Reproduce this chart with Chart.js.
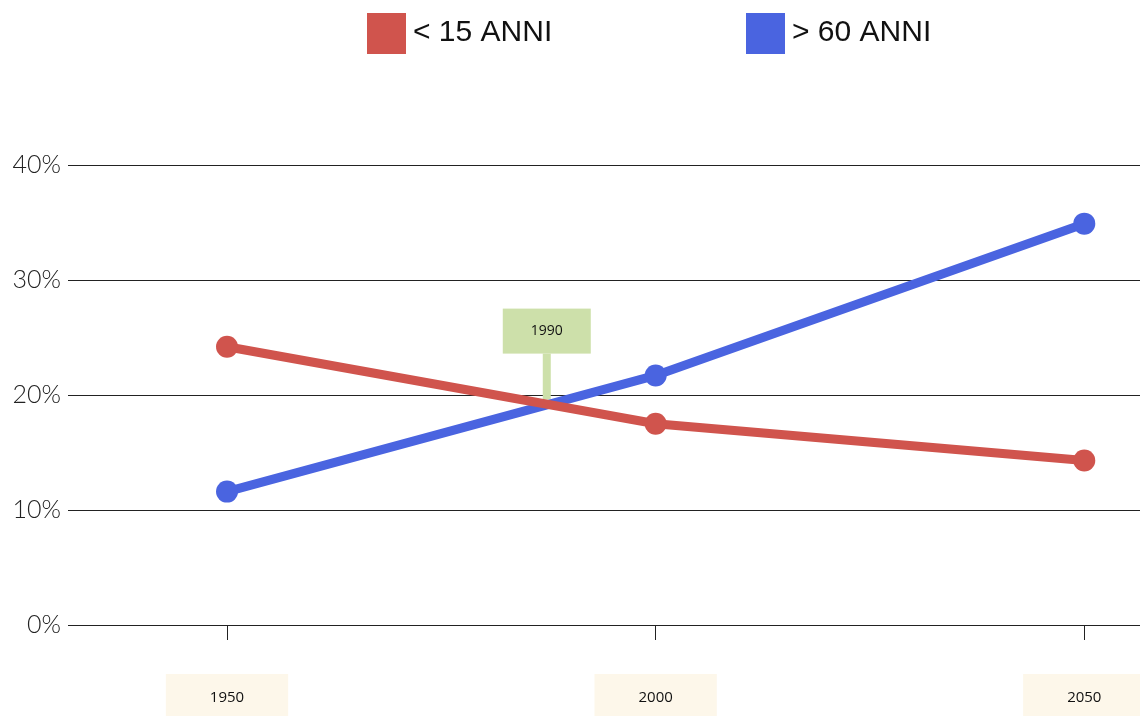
<!DOCTYPE html>
<html>
<head>
<meta charset="utf-8">
<script src="https://cdn.jsdelivr.net/npm/chart.js@4.4.1/dist/chart.umd.min.js"></script>
<style>
  html, body { margin: 0; padding: 0; background: #fff; }
  #wrap { width: 1140px; height: 716px; position: relative; }
</style>
</head>
<body>
<div id="wrap"><canvas id="chart"></canvas></div>
<script>
// data
const years = [1950, 2000, 2050];
const under15 = [24.2, 17.5, 14.3];
const over60 = [11.6, 21.7, 34.9];
const seriesLabels = ['< 15 ANNI', '> 60 ANNI'];
const yTicks = [0, 10, 20, 30, 40];
// crossover marker
const markerLabel = '1990';
const markerX = 1987.3;
const markerY = 19.6;

const RED = '#d0544d';
const BLUE = '#4a64e0';

const toPoints = (vals) => vals.map((v, i) => ({ x: years[i], y: v }));

// legend drawn at top of canvas
const topLegend = {
  id: 'topLegend',
  afterDraw(chart) {
    const ctx = chart.ctx;
    const items = chart.data.datasets;
    const starts = [367, 746];
    ctx.save();
    ctx.font = '30px "Liberation Sans", Arial, sans-serif';
    ctx.textBaseline = 'middle';
    ctx.textAlign = 'left';
    items.forEach((ds, i) => {
      const x = starts[i];
      ctx.fillStyle = ds.borderColor;
      ctx.fillRect(x, 13, 39, 41);
      ctx.fillStyle = '#111';
      ctx.fillText(ds.label, x + 46, 33);
    });
    ctx.restore();
  }
};

// green flag marking the crossing
const crossMarker = {
  id: 'crossMarker',
  beforeDatasetsDraw(chart) {
    const { ctx, scales: { x, y } } = chart;
    const px = x.getPixelForValue(markerX);
    const py = y.getPixelForValue(markerY);
    const boxW = 88, boxH = 45, stem = 46;
    const boxBottom = py - stem;
    ctx.save();
    ctx.fillStyle = '#cde0aa';
    ctx.fillRect(px - 4, boxBottom, 8, stem);
    ctx.fillRect(px - boxW / 2, boxBottom - boxH, boxW, boxH);
    ctx.fillStyle = '#111';
    ctx.font = '14px "Open Sans", sans-serif';
    ctx.textAlign = 'center';
    ctx.textBaseline = 'middle';
    ctx.fillText(markerLabel, px, boxBottom - boxH / 2);
    ctx.restore();
  }
};

new Chart(document.getElementById('chart'), {
  type: 'line',
  data: {
    datasets: [
      {
        label: seriesLabels[0],
        data: toPoints(under15),
        borderColor: RED,
        backgroundColor: RED,
        borderWidth: 9,
        pointRadius: 11,
        pointHoverRadius: 11,
        pointBorderWidth: 0,
        tension: 0
      },
      {
        label: seriesLabels[1],
        data: toPoints(over60),
        borderColor: BLUE,
        backgroundColor: BLUE,
        borderWidth: 9,
        pointRadius: 11,
        pointHoverRadius: 11,
        pointBorderWidth: 0,
        tension: 0
      }
    ]
  },
  options: {
    responsive: true,
    maintainAspectRatio: false,
    animation: false,
    clip: false,
    layout: { autoPadding: false, padding: { top: 165, right: 0, bottom: 0, left: 0 } },
    plugins: {
      legend: { display: false },
      tooltip: { enabled: false }
    },
    scales: {
      x: {
        type: 'linear',
        min: 1931.45,
        max: 2056.5,
        afterBuildTicks: (scale) => { scale.ticks = years.map(v => ({ value: v })); },
        afterFit: (scale) => {
          scale.height = 91;
          scale.paddingLeft = 0;
          scale.paddingRight = 0;
        },
        grid: {
          drawOnChartArea: false,
          drawTicks: true,
          tickLength: 15,
          color: '#222'
        },
        border: { display: false },
        ticks: {
          color: '#111',
          font: { family: '"Open Sans", sans-serif', size: 15 },
          padding: 49,
          maxRotation: 0,
          showLabelBackdrop: true,
          backdropColor: '#fdf7ea',
          backdropPadding: { top: 15, bottom: 20, left: 44, right: 44 },
          callback: (v) => String(v)
        }
      },
      y: {
        min: 0,
        max: 40,
        afterBuildTicks: (scale) => { scale.ticks = yTicks.map(v => ({ value: v })); },
        afterFit: (scale) => { scale.width = 68; },
        grid: {
          color: '#222',
          lineWidth: 1,
          drawTicks: false
        },
        border: { display: false },
        ticks: {
          color: '#222',
          padding: 7,
          font: { family: 'Lato, "Open Sans", sans-serif', size: 25, weight: '300' },
          callback: (v) => v + '%'
        }
      }
    }
  },
  plugins: [topLegend, crossMarker]
});
</script>
</body>
</html>
